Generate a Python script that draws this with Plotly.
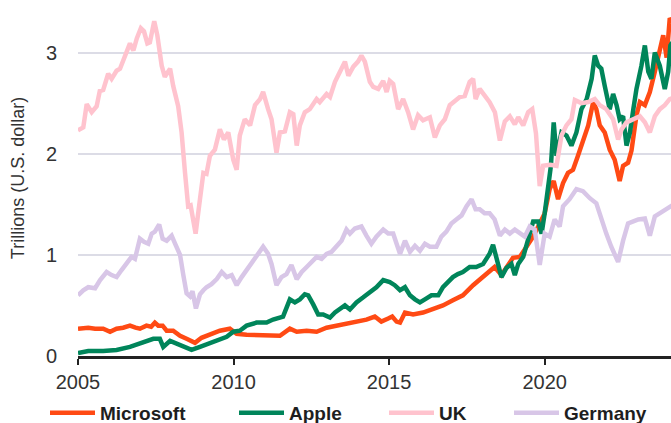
import plotly.graph_objects as go

# ---------------- data ----------------
ms_t = [2005.0, 2005.17, 2005.33, 2005.55, 2005.81, 2006.03, 2006.24, 2006.45, 2006.67, 2006.85,
        2006.99, 2007.2, 2007.35, 2007.47, 2007.58, 2007.72, 2007.85, 2008.06, 2008.28, 2008.49,
        2008.65, 2008.76, 2008.97, 2009.24, 2009.56, 2009.88, 2010.1, 2010.42, 2010.74, 2011.17,
        2011.49, 2011.81, 2012.03, 2012.35, 2012.67, 2012.99, 2013.31, 2013.63, 2013.95, 2014.27,
        2014.54, 2014.75, 2014.97, 2015.1, 2015.24, 2015.35, 2015.51, 2015.77, 2016.09, 2016.41,
        2016.73, 2017.05, 2017.37, 2017.7, 2018.02, 2018.23, 2018.39, 2018.61, 2018.77, 2018.98,
        2019.2, 2019.41, 2019.63, 2019.84, 2020.0, 2020.16, 2020.29, 2020.43, 2020.59, 2020.75,
        2020.91, 2021.07, 2021.23, 2021.4, 2021.56, 2021.66, 2021.77, 2021.93, 2022.09, 2022.25,
        2022.41, 2022.52, 2022.68, 2022.79, 2022.95, 2023.06, 2023.22, 2023.38, 2023.54, 2023.7,
        2023.81, 2023.92, 2024.02, 2024.1]
ms_v = [0.27, 0.28, 0.28, 0.27, 0.27, 0.24, 0.27, 0.28, 0.30, 0.28,
        0.27, 0.30, 0.29, 0.33, 0.30, 0.30, 0.25, 0.25, 0.20, 0.17,
        0.15, 0.13, 0.18, 0.21, 0.25, 0.27, 0.22, 0.21, 0.21, 0.21,
        0.20, 0.27, 0.24, 0.25, 0.24, 0.28, 0.30, 0.31, 0.33, 0.36,
        0.39, 0.34, 0.37, 0.39, 0.34, 0.33, 0.43, 0.41, 0.43, 0.46,
        0.50, 0.55, 0.60, 0.70, 0.78, 0.83, 0.88, 0.80, 0.87, 0.97,
        0.98, 1.08, 1.18, 1.31, 1.41, 1.65, 1.73, 1.55, 1.71, 1.81,
        1.84, 1.98, 2.14, 2.28, 2.51, 2.44, 2.28, 2.21, 2.04, 1.94,
        1.73, 1.88, 1.91, 2.03, 2.38, 2.51, 2.48, 2.61, 2.81, 3.00,
        3.17, 2.95, 3.34, 3.30]

ap_t = [2005.0, 2005.33, 2005.81, 2006.24, 2006.67, 2007.1, 2007.42, 2007.63, 2007.74, 2007.96,
        2008.17, 2008.44, 2008.65, 2008.92, 2009.24, 2009.56, 2009.78, 2009.99, 2010.2, 2010.42,
        2010.74, 2011.06, 2011.27, 2011.59, 2011.81, 2011.97, 2012.13, 2012.29, 2012.4, 2012.56,
        2012.72, 2012.88, 2013.1, 2013.26, 2013.42, 2013.58, 2013.74, 2013.95, 2014.17, 2014.38,
        2014.59, 2014.81, 2015.02, 2015.18, 2015.35, 2015.51, 2015.67, 2015.83, 2015.99, 2016.15,
        2016.36, 2016.58, 2016.73, 2016.89, 2017.05, 2017.21, 2017.37, 2017.59, 2017.8, 2018.02,
        2018.23, 2018.34, 2018.45, 2018.61, 2018.77, 2018.93, 2019.04, 2019.15, 2019.31, 2019.47,
        2019.63, 2019.79, 2019.9, 2020.0, 2020.11, 2020.2, 2020.29, 2020.38, 2020.54, 2020.7,
        2020.86, 2021.02, 2021.18, 2021.35, 2021.51, 2021.61, 2021.72, 2021.82, 2021.93, 2022.09,
        2022.2, 2022.31, 2022.41, 2022.52, 2022.63, 2022.74, 2022.85, 2022.95, 2023.11, 2023.22,
        2023.33, 2023.43, 2023.54, 2023.7, 2023.86, 2023.97, 2024.04, 2024.1]
ap_v = [0.03, 0.05, 0.05, 0.06, 0.09, 0.13, 0.17, 0.17, 0.09, 0.15,
        0.12, 0.09, 0.06, 0.09, 0.13, 0.17, 0.19, 0.24, 0.25, 0.30,
        0.33, 0.33, 0.36, 0.39, 0.56, 0.53, 0.56, 0.61, 0.60, 0.51,
        0.41, 0.41, 0.38, 0.43, 0.46, 0.50, 0.46, 0.53, 0.58, 0.63,
        0.68, 0.75, 0.73, 0.70, 0.65, 0.68, 0.60, 0.56, 0.53, 0.56,
        0.60, 0.60, 0.68, 0.73, 0.78, 0.81, 0.83, 0.88, 0.88, 0.91,
        1.01, 1.10, 0.98, 0.78, 0.87, 0.91, 0.80, 0.91, 0.98, 1.14,
        1.33, 1.33, 1.21, 1.41, 1.68, 1.88, 2.31, 1.98, 2.21, 2.18,
        2.08, 2.21, 2.44, 2.54, 2.74, 2.97, 2.87, 2.84, 2.67, 2.44,
        2.59, 2.48, 2.34, 2.37, 2.08, 2.21, 2.44, 2.64, 2.87, 3.07,
        2.81, 2.74, 3.00, 2.87, 2.64, 2.81, 3.07, 3.10]

uk_t = [2005.0, 2005.17, 2005.28, 2005.44, 2005.6, 2005.7, 2005.81, 2005.97, 2006.08, 2006.24,
        2006.35, 2006.51, 2006.67, 2006.78, 2006.89, 2007.02, 2007.12, 2007.23, 2007.31, 2007.45,
        2007.55, 2007.69, 2007.79, 2007.96, 2008.06, 2008.22, 2008.33, 2008.44, 2008.54, 2008.62,
        2008.78, 2008.92, 2009.03, 2009.13, 2009.24, 2009.4, 2009.56, 2009.69, 2009.83, 2009.99,
        2010.1, 2010.2, 2010.36, 2010.53, 2010.69, 2010.85, 2010.95, 2011.11, 2011.22, 2011.38,
        2011.49, 2011.65, 2011.81, 2011.92, 2012.03, 2012.13, 2012.29, 2012.45, 2012.67, 2012.77,
        2012.99, 2013.1, 2013.26, 2013.42, 2013.58, 2013.69, 2013.85, 2014.0, 2014.11, 2014.22,
        2014.38, 2014.49, 2014.65, 2014.81, 2014.92, 2015.02, 2015.13, 2015.29, 2015.45, 2015.61,
        2015.77, 2015.93, 2016.09, 2016.31, 2016.47, 2016.63, 2016.79, 2016.95, 2017.11, 2017.27,
        2017.43, 2017.59, 2017.7, 2017.78, 2017.91, 2018.07, 2018.23, 2018.4, 2018.56, 2018.72,
        2018.88, 2019.04, 2019.15, 2019.31, 2019.47, 2019.6, 2019.72, 2019.84, 2019.95, 2020.17,
        2020.38, 2020.54, 2020.7, 2020.86, 2020.97, 2021.18, 2021.4, 2021.61, 2021.77, 2021.98,
        2022.2, 2022.36, 2022.47, 2022.63, 2022.85, 2023.06, 2023.22, 2023.38, 2023.54, 2023.7,
        2023.86, 2024.02, 2024.1]
uk_v = [2.23, 2.26, 2.49, 2.41, 2.47, 2.62, 2.63, 2.79, 2.74, 2.82,
        2.84, 2.97, 3.09, 3.02, 3.14, 3.24, 3.21, 3.09, 3.10, 3.31,
        3.17, 2.87, 2.76, 2.84, 2.67, 2.47, 2.21, 1.81, 1.48, 1.49,
        1.21, 1.55, 1.81, 1.80, 1.98, 2.04, 2.24, 2.14, 2.21, 1.94,
        1.84, 2.18, 2.34, 2.28, 2.48, 2.54, 2.61, 2.44, 2.34, 2.01,
        2.21, 2.22, 2.41, 2.39, 2.08, 2.28, 2.41, 2.44, 2.54, 2.51,
        2.59, 2.56, 2.71, 2.81, 2.91, 2.77, 2.86, 2.91, 2.97, 2.91,
        2.71, 2.66, 2.64, 2.72, 2.61, 2.72, 2.69, 2.44, 2.54, 2.41,
        2.24, 2.38, 2.33, 2.36, 2.16, 2.28, 2.34, 2.48, 2.52, 2.56,
        2.57, 2.71, 2.74, 2.54, 2.64, 2.57, 2.51, 2.41, 2.13, 2.32,
        2.37, 2.29, 2.36, 2.28, 2.41, 2.44, 2.20, 1.68, 1.88, 1.89,
        1.88, 2.18, 2.28, 2.34, 2.53, 2.50, 2.51, 2.54, 2.48, 2.44,
        2.34, 2.14, 2.24, 2.31, 2.34, 2.37, 2.31, 2.21, 2.37, 2.44,
        2.48, 2.54, 2.55]

de_t = [2005.0, 2005.17, 2005.33, 2005.55, 2005.71, 2005.92, 2006.08, 2006.24, 2006.4, 2006.56,
        2006.72, 2006.83, 2006.99, 2007.12, 2007.26, 2007.37, 2007.47, 2007.61, 2007.72, 2007.85,
        2008.01, 2008.12, 2008.28, 2008.38, 2008.49, 2008.6, 2008.68, 2008.79, 2008.92, 2009.03,
        2009.13, 2009.29, 2009.46, 2009.62, 2009.78, 2009.94, 2010.1, 2010.26, 2010.42, 2010.58,
        2010.74, 2010.95, 2011.11, 2011.22, 2011.38, 2011.54, 2011.7, 2011.86, 2012.03, 2012.19,
        2012.35, 2012.51, 2012.67, 2012.83, 2012.99, 2013.15, 2013.31, 2013.47, 2013.63, 2013.74,
        2013.9, 2014.11, 2014.27, 2014.43, 2014.59, 2014.81, 2014.97, 2015.13, 2015.24, 2015.35,
        2015.51, 2015.67, 2015.83, 2015.99, 2016.15, 2016.31, 2016.52, 2016.68, 2016.84, 2017.0,
        2017.16, 2017.33, 2017.49, 2017.65, 2017.78, 2017.91, 2018.07, 2018.23, 2018.39, 2018.56,
        2018.72, 2018.88, 2019.04, 2019.2, 2019.36, 2019.52, 2019.68, 2019.84, 2020.0, 2020.16,
        2020.32, 2020.48, 2020.59, 2020.8, 2021.02, 2021.23, 2021.45, 2021.66, 2021.82, 2021.98,
        2022.14, 2022.36, 2022.52, 2022.68, 2022.85, 2023.01, 2023.22, 2023.38, 2023.54, 2023.7,
        2023.92, 2024.02, 2024.1]
de_v = [0.60, 0.65, 0.68, 0.67, 0.75, 0.83, 0.80, 0.78, 0.85, 0.91,
        0.98, 0.96, 1.16, 1.13, 1.11, 1.21, 1.23, 1.30, 1.16, 1.14,
        1.19, 1.11, 1.00, 0.81, 0.62, 0.59, 0.64, 0.47, 0.61, 0.65,
        0.68, 0.71, 0.76, 0.83, 0.78, 0.80, 0.70, 0.78, 0.85, 0.91,
        0.98, 1.08, 1.01, 0.91, 0.70, 0.78, 0.81, 0.90, 0.76, 0.83,
        0.88, 0.93, 0.98, 0.96, 1.01, 1.03, 1.08, 1.14, 1.25, 1.21,
        1.26, 1.28, 1.19, 1.11, 1.18, 1.25, 1.21, 1.21, 1.11, 1.01,
        1.14, 1.03, 1.09, 1.04, 1.11, 1.08, 1.08, 1.18, 1.23, 1.31,
        1.35, 1.39, 1.48, 1.55, 1.45, 1.45, 1.41, 1.41, 1.35, 1.19,
        1.25, 1.21, 1.25, 1.21, 1.18, 1.28, 1.25, 0.90, 1.21, 1.18,
        1.35, 1.28, 1.48, 1.55, 1.65, 1.63, 1.56, 1.51, 1.35, 1.21,
        1.08, 0.93, 1.14, 1.31, 1.33, 1.35, 1.36, 1.19, 1.38, 1.41,
        1.46, 1.48, 1.49]

series_names = ["Microsoft", "Apple", "UK", "Germany"]
x_tick_vals = [2005, 2010, 2015, 2020]
x_tick_text = ["2005", "2010", "2015", "2020"]
y_tick_vals = [0, 1, 2, 3]
y_tick_text = ["0", "1", "2", "3"]

# ---------------- styling / layout ----------------
W, H = 671, 423
ML, MR, MT = 77.5, 0, 0
MB = H - 356.5
FONT = "Liberation Sans, Arial, sans-serif"
colors = ["#FF4A14", "#00855A", "#FFC3CE", "#D8C6E7"]
data = [(ms_t, ms_v), (ap_t, ap_v), (uk_t, uk_v), (de_t, de_v)]
legend_ids = ["legend", "legend2", "legend3", "legend4"]
legend_px = [45, 234, 384, 509]  # left pixel of each legend box
legend_py = 413                  # pixel of legend centre line
y_top = 356.5 / 101.3            # value at the top edge of the plot area

fig = go.Figure()
for name, (t, v), c, lid in zip(series_names, data, colors, legend_ids):
    fig.add_trace(go.Scatter(x=t, y=v, mode="lines", name=name,
                             line=dict(color=c, width=4.5), legend=lid))

legend_common = dict(orientation="h", bgcolor="rgba(0,0,0,0)", borderwidth=0,
                     xref="container", yref="container",
                     yanchor="middle", xanchor="left", itemwidth=45,
                     font=dict(family=FONT, size=19, color="#1e1e1e", weight="bold"))
for lid, lpx in zip(legend_ids, legend_px):
    fig.update_layout({lid: dict(x=lpx / W, y=(H - legend_py) / H, **legend_common)})

fig.update_layout(
    width=W, height=H,
    margin=dict(l=ML, r=MR, t=MT, b=MB, pad=0, autoexpand=False),
    paper_bgcolor="white", plot_bgcolor="white",
    showlegend=True,
    font=dict(family=FONT, color="#333333"),
    xaxis=dict(range=[2005, 2024.06], tickvals=x_tick_vals, ticktext=x_tick_text,
               automargin=False,
               showgrid=False, zeroline=False, showline=True, linecolor="#222222",
               linewidth=2.5, ticks="outside", ticklen=6, tickwidth=2, tickcolor="#222222",
               tickfont=dict(family=FONT, size=20, color="#333333")),
    yaxis=dict(range=[0, y_top], tickvals=y_tick_vals, ticktext=y_tick_text,
               automargin=False,
               showgrid=True, gridcolor="#DCDCE6", gridwidth=1.5, zeroline=False,
               showline=False, ticks="outside", ticklen=16, tickcolor="rgba(0,0,0,0)",
               tickfont=dict(family=FONT, size=20, color="#333333"),
               title=dict(text="Trillions (U.S. dollar)", standoff=16,
                          font=dict(family=FONT, size=18, color="#333333"))),
)

# remove the browser's default page margin so the figure fills the window exactly
fig.write_html("out.html", config={"displayModeBar": False},
               post_script="document.body.style.margin='0';document.body.style.overflow='hidden';")
